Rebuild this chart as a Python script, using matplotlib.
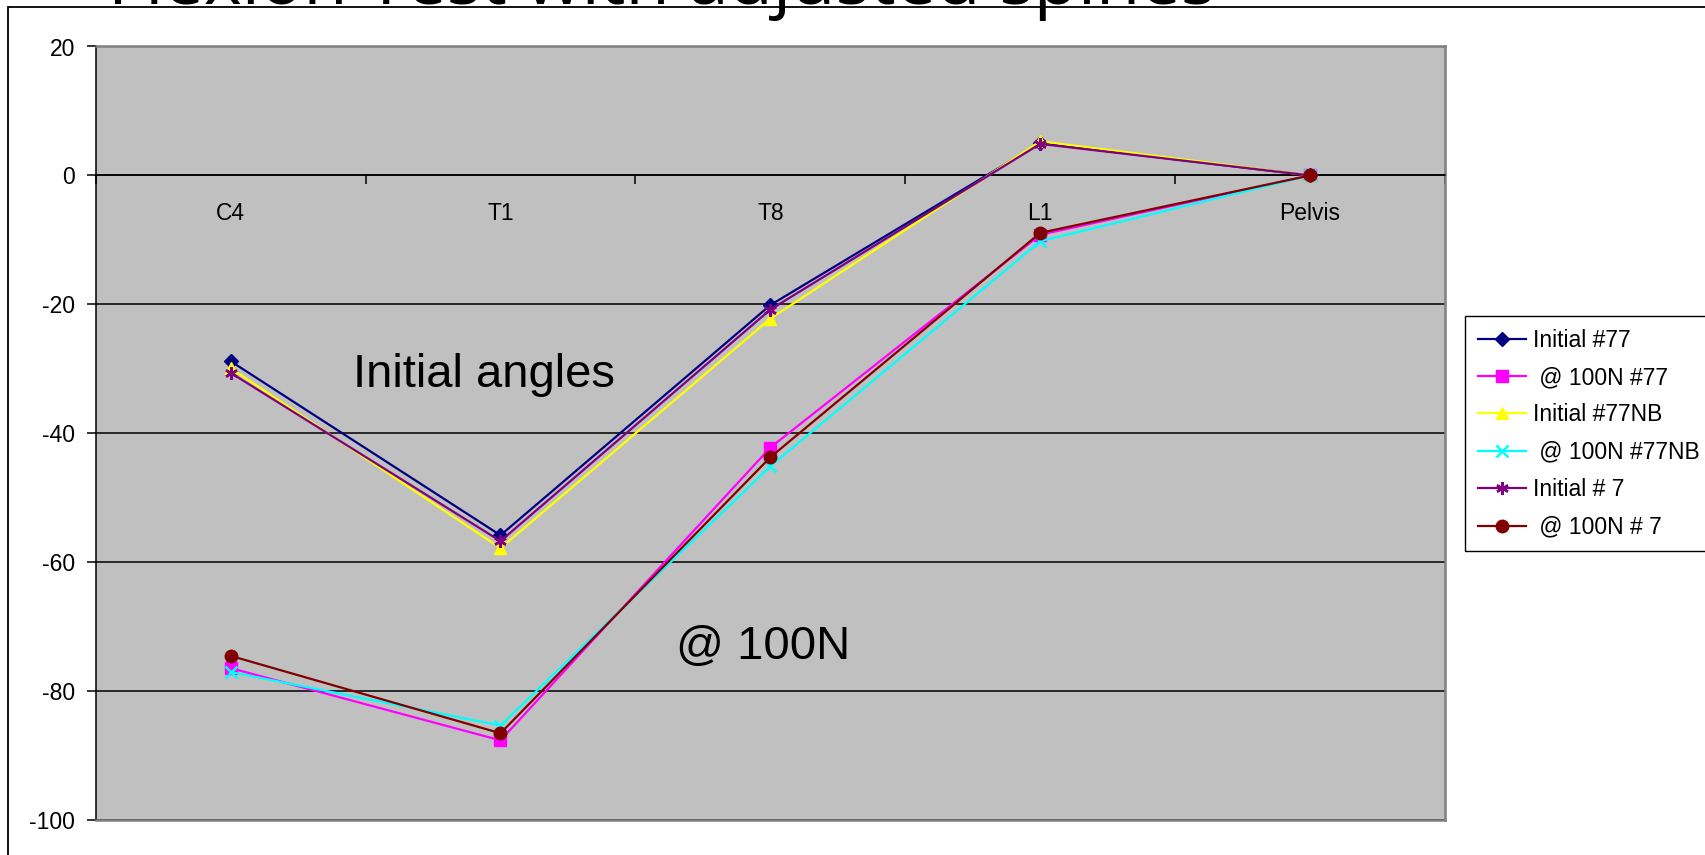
import numpy as np
import matplotlib
matplotlib.use("Agg")
import matplotlib.pyplot as plt
from matplotlib.patches import Rectangle

plt.rcParams["font.family"] = ["Liberation Sans", "DejaVu Sans"]
plt.rcParams["axes.unicode_minus"] = False

# values (degrees)
CATEGORIES = ["C4", "T1", "T8", "L1", "Pelvis"]
INIT_77 = [-28.8, -55.8, -20.1, 5.0, 0.0]
LOAD_77 = [-76.4, -87.6, -42.2, -9.2, 0.0]
INIT_77NB = [-29.9, -57.8, -22.2, 5.3, 0.0]
LOAD_77NB = [-77.0, -85.3, -45.1, -10.2, 0.0]
INIT_7 = [-30.6, -56.7, -20.8, 4.9, 0.0]
LOAD_7 = [-74.5, -86.5, -43.7, -8.9, 0.0]
YTICKS = [-100, -80, -60, -40, -20, 0, 20]

SERIES = [
    ("Initial #77", INIT_77, "#000080", "D", 7.5),
    (" @ 100N #77", LOAD_77, "#FF00FF", "s", 8),
    ("Initial #77NB", INIT_77NB, "#FFFF00", "^", 9),
    (" @ 100N #77NB", LOAD_77NB, "#00FFFF", "x", 8),
    ("Initial # 7", INIT_7, "#800080", (6, 2, 0), 9),
    (" @ 100N # 7", LOAD_7, "#800000", "o", 9),
]

W, H = 1706, 855
fig = plt.figure(figsize=(W / 100, H / 100), dpi=100)
ax = fig.add_axes([95.7 / W, 1 - 820.3 / H, (1445 - 95.7) / W, (820.3 - 46.5) / H])
ax.set_facecolor("#C0C0C0")

x = np.arange(len(CATEGORIES))
for label, vals, color, marker, ms in SERIES:
    ax.plot(x, vals, color=color, marker=marker, markersize=ms, lw=1.6,
            mew=1.8 if marker in ("x", (6, 2, 0)) else 1.0,
            label=label, clip_on=False, zorder=3)

ax.set_xlim(-0.5, len(CATEGORIES) - 0.5)
ax.set_ylim(YTICKS[0], YTICKS[-1])

# gridlines
ax.set_yticks(YTICKS)
ax.yaxis.grid(True, color="black", lw=1.1)
ax.set_axisbelow(True)

# x axis sits on y = 0, category ticks between labels
ax.spines["bottom"].set_position(("data", 0))
ax.spines["bottom"].set_color("black")
ax.spines["bottom"].set_linewidth(1.1)
ax.spines["left"].set_color("black")
ax.spines["left"].set_linewidth(1.1)
for s in ("top", "right"):
    ax.spines[s].set_color("#7F7F7F")
    ax.spines[s].set_linewidth(1.8)
ax.axhline(YTICKS[0], color="#7F7F7F", lw=1.8, clip_on=False, zorder=2.6)

ax.set_xticks(x)
ax.set_xticklabels(CATEGORIES)
ax.set_xticks(np.arange(-0.5, len(CATEGORIES)), minor=True)
ax.tick_params(axis="x", which="major", length=0, pad=19, labelsize=16.5)
ax.tick_params(axis="x", which="minor", length=6.3, width=1.1, direction="out")
ax.tick_params(axis="y", length=6.3, width=1.1, direction="out", pad=8.6, labelsize=16.5)

ax.text(0.452, -32.78, "Initial angles", fontsize=34, va="baseline", ha="left")
ax.text(1.652, -75.04, "@ 100N", fontsize=34, va="baseline", ha="left")

leg = ax.legend(loc="upper left", bbox_to_anchor=(1465 / W, 1 - 316 / H),
                bbox_transform=fig.transFigure, fontsize=16.5, frameon=True,
                fancybox=False, framealpha=1, edgecolor="black", borderpad=0.55,
                labelspacing=0.63, handlelength=2.1, handletextpad=0.3,
                borderaxespad=0)
leg.get_frame().set_linewidth(1.0)

# slide frame and clipped slide title
fig.add_artist(Rectangle((8.3 / W, -0.1), 1.2, 1.1 - 7.5 / H, transform=fig.transFigure,
                         fill=False, ec="black", lw=1.3))
fig.text(24 / W, 1 - 4 / H, "\u27A2", fontsize=44, va="baseline", family=["DejaVu Sans"])
fig.text(108 / W, 1 - 4 / H, "Flexion Test with adjusted spines", fontsize=52,
         va="baseline", family=["Open Sans", "DejaVu Sans"])

fig.savefig("out.png", dpi=100)
